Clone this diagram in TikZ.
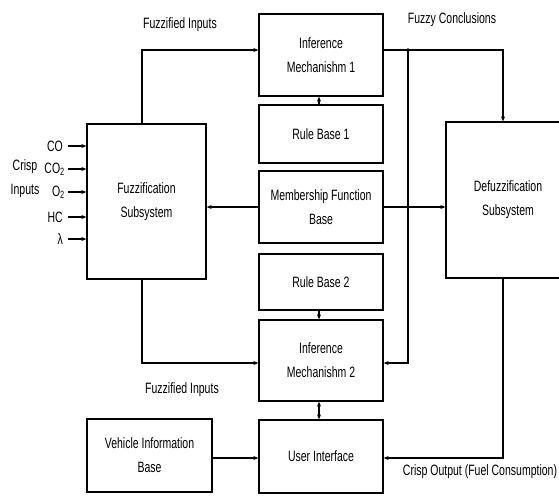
\documentclass[tikz,border=0pt]{standalone}
\usepackage{fontspec}
\setmainfont{Liberation Sans}[FakeStretch=0.7]
\usepackage{tikz}
\usetikzlibrary{arrows.meta}

\begin{document}
\begin{tikzpicture}[x=1pt,y=-1pt,
        >={Stealth[length=5pt,width=4pt]},
        font=\fontsize{15}{24}\selectfont,
        block/.style={draw,line width=1.3pt,align=center,inner sep=0pt},
        link/.style={line width=1.3pt},
        heavy/.style={line width=2.4pt},
        lbl/.style={align=center,inner sep=0pt}]
        \useasboundingbox (0,0) rectangle (559,496);

        \node[block,minimum width=124pt,minimum height=82pt] (inf1) at (321,55) {Inference\\Mechanishm 1};
        \node[block,minimum width=124pt,minimum height=58pt] (rb1) at (321,134) {Rule Base 1};
        \node[block,minimum width=124pt,minimum height=72pt] (mfb) at (321,207) {Membership Function\\Base};
        \node[block,minimum width=124pt,minimum height=56pt] (rb2) at (321,282) {Rule Base 2};
        \node[block,minimum width=124pt,minimum height=81pt] (inf2) at (321,360.5) {Inference\\Mechanishm 2};
        \node[block,minimum width=124pt,minimum height=73pt] (ui) at (321,456.5) {User Interface};

        \node[block,minimum width=119pt,minimum height=155pt] (fuzz) at (146.5,201.5) {Fuzzification\\Subsystem};
        \node[block,minimum width=125pt,minimum height=73pt] (vib) at (149.5,455.5) {Vehicle Information\\Base};
        \node[block,minimum width=124pt,minimum height=156pt] (defuzz) at (508,200) {Defuzzification\\Subsystem};

        \node[lbl,anchor=base] (fi1) at (180,28) {Fuzzified Inputs};
        \node[lbl,anchor=base] (fi2) at (182,393) {Fuzzified Inputs};
        \node[lbl,anchor=base] (fcl) at (452,23) {Fuzzy Conclusions};
        \node[lbl,anchor=base] (cout) at (480,475) {Crisp Output (Fuel Consumption)};
        \node[lbl] (cin) at (25,179) {Crisp\\Inputs};

        \node[lbl,anchor=east] (co) at (63,146) {CO};
        \node[lbl,anchor=east] (co2) at (65,169) {CO\textsubscript{2}};
        \node[lbl,anchor=east] (o2) at (65,192) {O\textsubscript{2}};
        \node[lbl,anchor=east] (hc) at (63,217) {HC};
        \node[lbl,anchor=east] (lam) at (63,239) {λ};
        \draw[link,->] (68,146) -- (fuzz.west |- co);
        \draw[link,->] (68,169) -- (fuzz.west |- co2);
        \draw[link,->] (68,192) -- (fuzz.west |- o2);
        \draw[link,->] (68,217) -- (fuzz.west |- hc);
        \draw[link,->] (68,239) -- (fuzz.west |- lam);

        \coordinate (up) at (142,50);
        \coordinate (down) at (142,363);
        \draw[link,->] (up |- fuzz.north) -- (up) -- (inf1.west |- up);
        \draw[link,->] (down |- fuzz.south) -- (down) -- (inf2.west |- down);

        \coordinate (jn) at (408,50);
        \coordinate (turn) at (503,50);
        \coordinate (back) at (408,363);
        \draw[link,->] (inf1.east |- turn) -- (turn) -- (turn |- defuzz.north);
        \draw[link,->] (jn) -- (back) -- (inf2.east |- back);
        \fill (jn) circle (1.8pt);

        \draw[heavy,->] (mfb.west) -- (fuzz.east |- mfb.west);
        \draw[heavy,->] (mfb.east) -- (defuzz.west |- mfb.east);

        \draw[link,->] (rb1.north -| 319,0) -- (inf1.south -| 319,0);
        \draw[link,->] (rb2.south -| 319,0) -- (inf2.north -| 319,0);
        \draw[link,<->] (inf2.south -| 319,0) -- (ui.north -| 319,0);

        \coordinate (out) at (503,458);
        \draw[link,->] (out |- defuzz.south) -- (out) -- (ui.east |- out);
        \draw[link,->] (vib.east |- out) -- (ui.west |- out);

    \end{tikzpicture}
\end{document}
